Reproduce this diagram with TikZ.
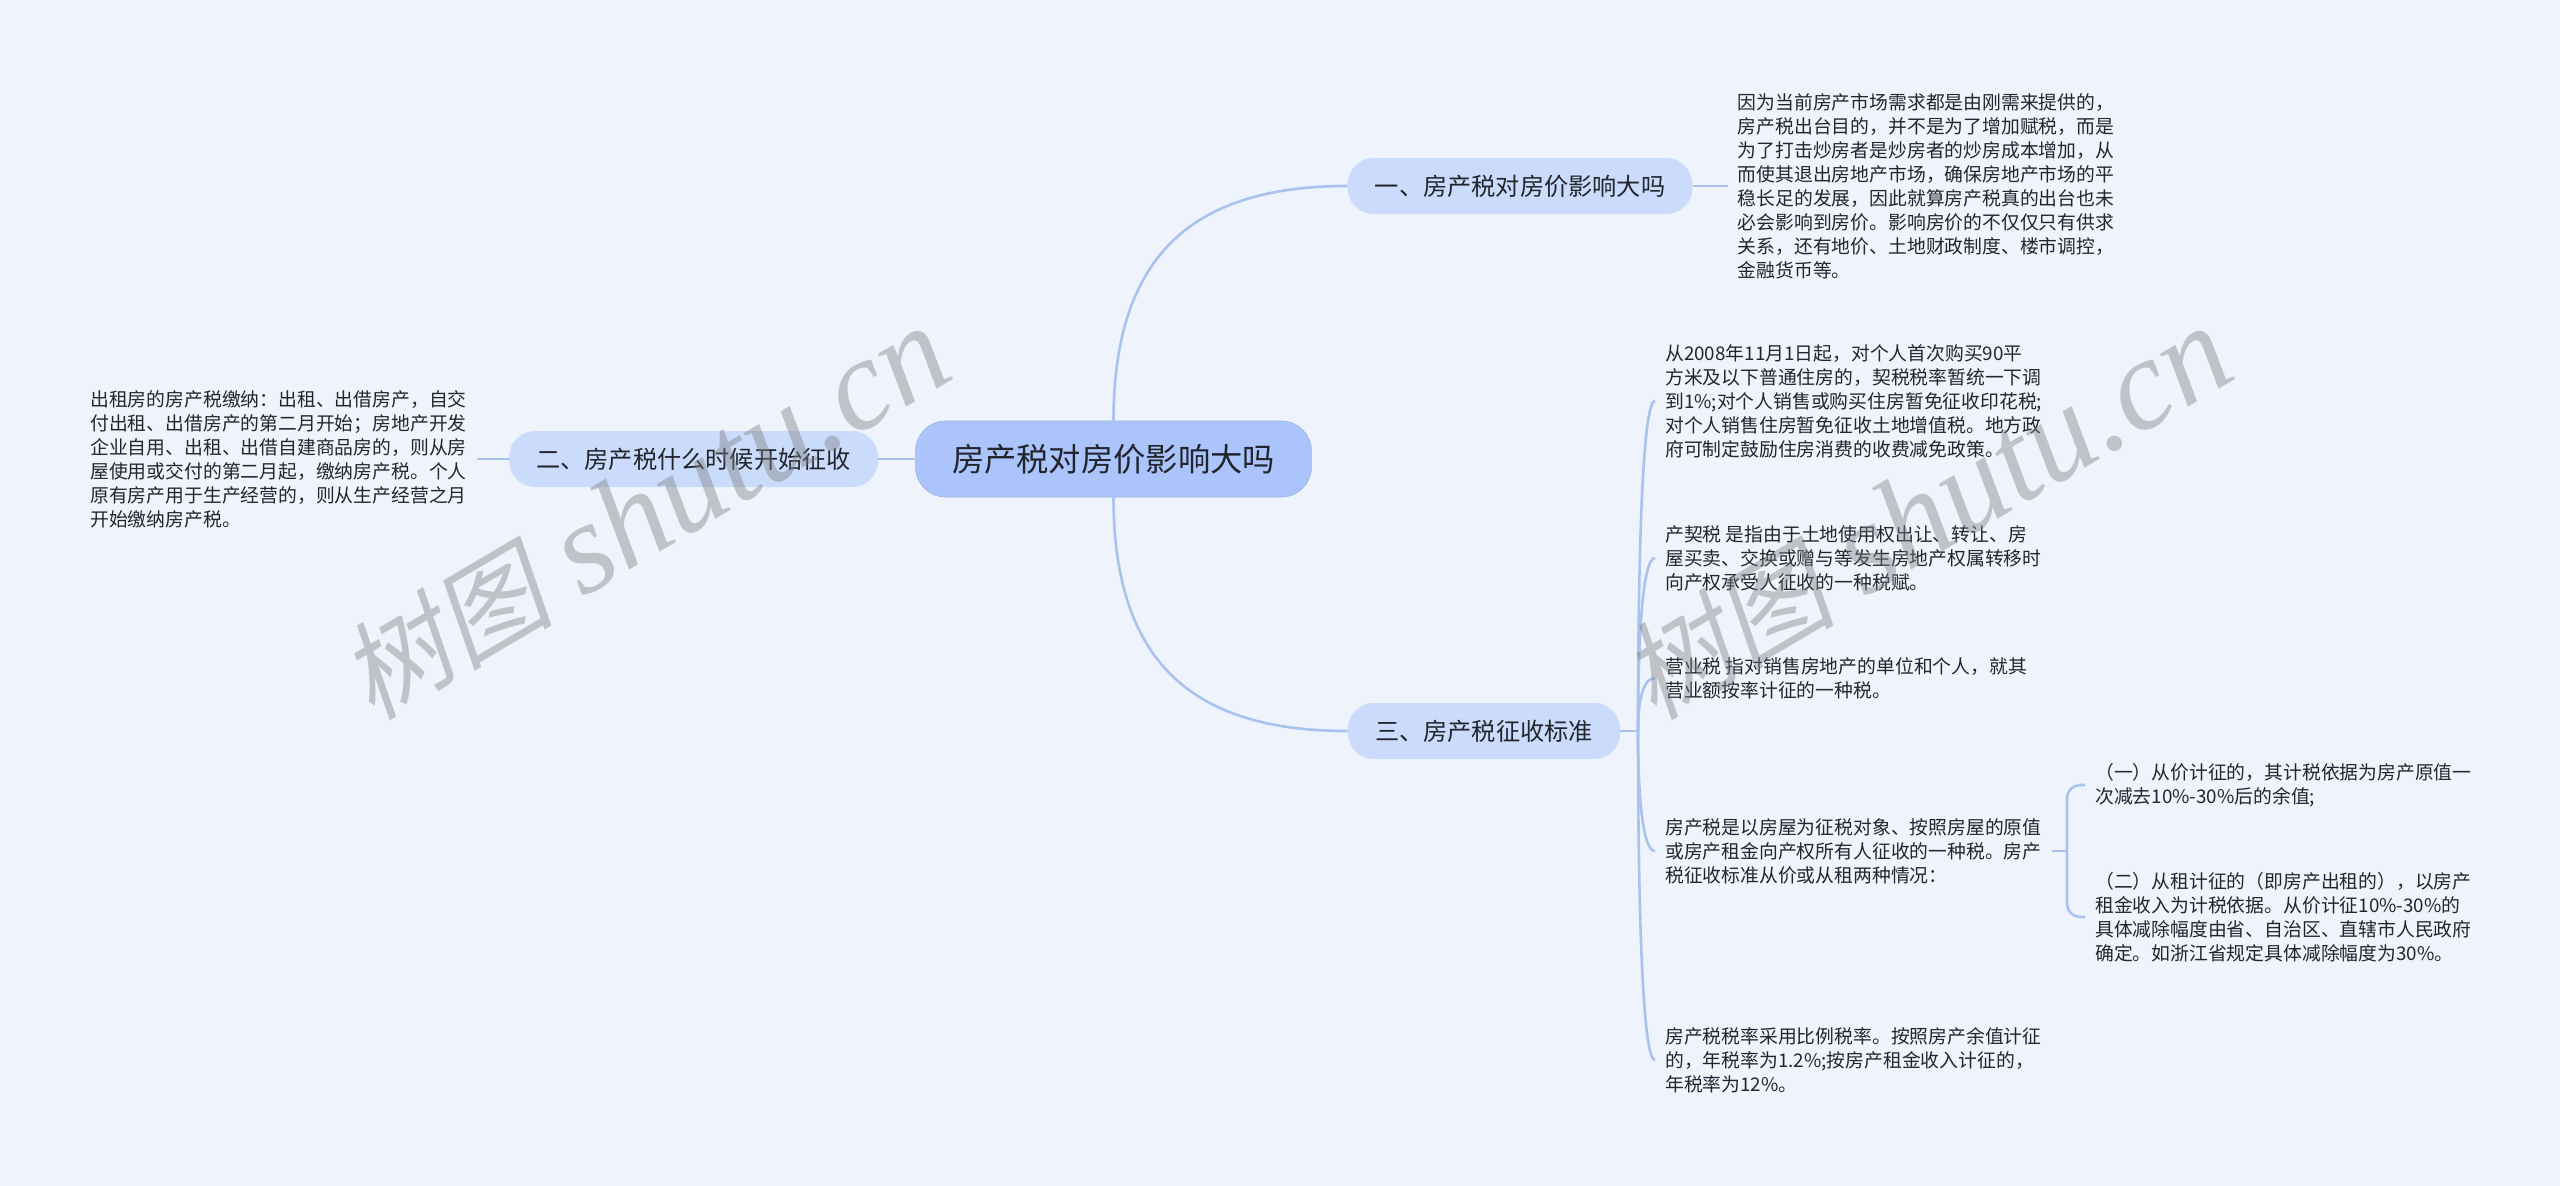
\documentclass[tikz,border=0pt]{standalone}
\usepackage{fontspec}
\usepackage{xcolor}
\setmainfont{Noto Sans CJK SC}
\newfontfamily\merkecjk[FakeSlant=0.2]{Noto Sans CJK SC}
\newfontfamily\merkelatin{Liberation Serif}
\usepackage{tikz}
\usetikzlibrary{positioning}
\definecolor{bakgrunn}{HTML}{EEF3FC}
\definecolor{rotfarge}{HTML}{ABC4FB}
\definecolor{barnfarge}{HTML}{CADBFB}
\definecolor{kantfarge}{HTML}{A9C2EE}
\definecolor{tekstfarge}{HTML}{22252C}

\begin{document}
\begin{tikzpicture}
	[
	   x = 1pt, y = -1pt,
	   rot/.style = {fill=rotfarge, draw=rotfarge!90!black, line width=0.6pt, rounded corners=30pt, minimum height=76pt, inner xsep=36.4pt, text=tekstfarge, font=\fontsize{32.3}{38}\selectfont},
	   barn/.style = {fill=barnfarge, rounded corners=26pt, minimum height=56pt, inner xsep=27.2pt, text=tekstfarge, font=\fontsize{24.2}{30}\selectfont},
	   blad/.style = {align=left, inner xsep=10pt, inner ysep=0pt, text=tekstfarge, font=\fontsize{18.82}{24}\selectfont},
	   kant/.style = {draw=kantfarge, line width=2.6pt},
	   merke/.style = {rotate=30.5, text=gray, opacity=0.42, font=\fontsize{130}{140}\selectfont},
	]
	\fill [bakgrunn] (0,0) rectangle (2560,1186);

	% midten og venstre side
	\node [rot] (root) at (1113.5,459) {房产税对房价影响大吗};
	\node [barn, left=37pt of root] (when) {二、房产税什么时候开始征收};
	\node [blad, left=32pt of when] (whentext) {出租房的房产税缴纳：出租、出借房产，自交\\付出租、出借房产的第二月开始；房地产开发\\企业自用、出租、出借自建商品房的，则从房\\屋使用或交付的第二月起，缴纳房产税。个人\\原有房产用于生产经营的，则从生产经营之月\\开始缴纳房产税。};

	% høyre side
	\node [barn] (effect) at (1520,186) {一、房产税对房价影响大吗};
	\node [blad, right=35pt of effect] (effecttext) {因为当前房产市场需求都是由刚需来提供的，\\房产税出台目的，并不是为了增加赋税，而是\\为了打击炒房者是炒房者的炒房成本增加，从\\而使其退出房地产市场，确保房地产市场的平\\稳长足的发展，因此就算房产税真的出台也未\\必会影响到房价。影响房价的不仅仅只有供求\\关系，还有地价、土地财政制度、楼市调控，\\金融货币等。};
	\node [barn] (standard) at (1484,731) {三、房产税征收标准};
	\coordinate (trunk) at (1638,731);

	\node [blad, anchor=west] (deed) at (1655,401) {从2008年11月1日起，对个人首次购买90平\\方米及以下普通住房的，契税税率暂统一下调\\到1\%;对个人销售或购买住房暂免征收印花税;\\对个人销售住房暂免征收土地增值税。地方政\\府可制定鼓励住房消费的收费减免政策。};
	\node [blad, anchor=west] (deedtax) at (1655,558) {产契税 是指由于土地使用权出让、转让、房\\屋买卖、交换或赠与等发生房地产权属转移时\\向产权承受人征收的一种税赋。};
	\node [blad, anchor=west] (business) at (1655,678) {营业税 指对销售房地产的单位和个人，就其\\营业额按率计征的一种税。};
	\node [blad, anchor=west] (property) at (1655,851) {房产税是以房屋为征税对象、按照房屋的原值\\或房产租金向产权所有人征收的一种税。房产\\税征收标准从价或从租两种情况：};
	\node [blad, anchor=west] (rate) at (1655,1060) {房产税税率采用比例税率。按照房产余值计征\\的，年税率为1.2\%;按房产租金收入计征的，\\年税率为12\%。};

	\node [blad, anchor=west] (byvalue) at (2085,785) {（一）从价计征的，其计税依据为房产原值一\\次减去10\%-30\%后的余值;};
	\node [blad, anchor=west] (byrent) at (2085,917) {（二）从租计征的（即房产出租的），以房产\\租金收入为计税依据。从价计征10\%-30\%的\\具体减除幅度由省、自治区、直辖市人民政府\\确定。如浙江省规定具体减除幅度为30\%。};
	\coordinate (fork) at (2067,851);

	% kanter
	\draw [kant] (root) -- (when);
	\draw [kant] (when) -- (whentext);
	\draw [kant] (effect) -- (effecttext);
	\draw [kant] (root.north) .. controls +(0,-170) and +(-150,0) .. (effect.west);
	\draw [kant] (root.south) .. controls +(0,170) and +(-150,0) .. (standard.west);
	\draw [kant] (standard) -- (trunk);
	\draw [kant] (trunk) .. controls +(0,-165) and +(-13,0) .. (deed.west);
	\draw [kant] (trunk) .. controls +(0,-87) and +(-13,0) .. (deedtax.west);
	\draw [kant] (trunk) .. controls +(0,-27) and +(-13,0) .. (business.west);
	\draw [kant] (trunk) .. controls +(0,60) and +(-13,0) .. (property.west);
	\draw [kant] (trunk) .. controls +(0,165) and +(-13,0) .. (rate.west);
	\draw [kant] (property.east) -- (fork);
	\draw [kant, rounded corners=13pt] (byvalue.west) -| (fork) |- (byrent.west);

	% vannmerke
	\node [merke] (mark1) at (645,514) {{\merkecjk\fontsize{107}{140}\selectfont 树图} {\merkelatin\itshape shutu.cn}};
	\node [merke] (mark2) at (1927,514) {{\merkecjk\fontsize{107}{140}\selectfont 树图} {\merkelatin\itshape shutu.cn}};
\end{tikzpicture}
\end{document}
